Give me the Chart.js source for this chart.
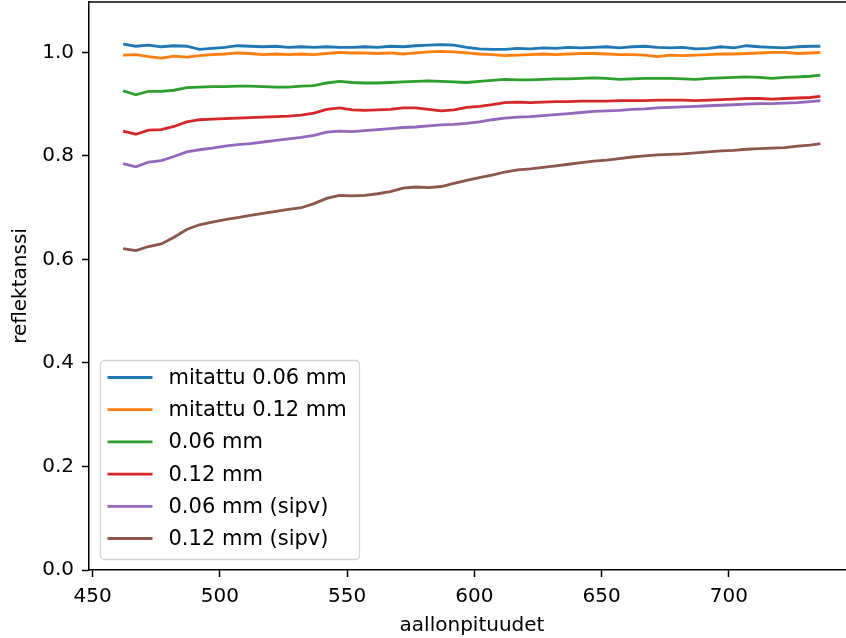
<!DOCTYPE html>
<html>
<head>
<meta charset="utf-8">
<script src="https://cdn.jsdelivr.net/npm/chart.js@4.4.1/dist/chart.umd.min.js"></script>
<style>
  html, body { margin: 0; padding: 0; background: #fff; }
  #wrap { width: 846px; height: 638px; overflow: hidden; position: relative; }
  #spectra { position: absolute; left: 0; top: 0; }
</style>
</head>
<body>
<div id="wrap"><canvas id="spectra" width="860" height="638"></canvas></div>
<script>
// wavelengths (nm)
const wavelengths = [462, 467, 472, 477, 482, 487, 492, 497, 502, 507, 512, 517, 522, 527, 532, 537, 542, 547, 552, 557,
  562, 567, 572, 577, 582, 587, 592, 597, 602, 607, 612, 617, 622, 627, 632, 637, 642, 647, 652, 657,
  662, 667, 672, 677, 682, 687, 692, 697, 702, 707, 712, 717, 722, 727, 732, 736];

const measured006 = [1.016, 1.012, 1.014, 1.011, 1.013, 1.012, 1.006, 1.008, 1.010, 1.013, 1.012, 1.011, 1.012, 1.010, 1.011, 1.010, 1.011, 1.010, 1.010, 1.011,
  1.010, 1.012, 1.011, 1.013, 1.014, 1.015, 1.014, 1.010, 1.007, 1.006, 1.006, 1.008, 1.007, 1.009, 1.008, 1.010, 1.009, 1.010, 1.011, 1.009,
  1.011, 1.012, 1.010, 1.009, 1.010, 1.007, 1.008, 1.011, 1.009, 1.013, 1.011, 1.010, 1.009, 1.011, 1.012, 1.012];

const measured012 = [0.995, 0.996, 0.992, 0.989, 0.993, 0.991, 0.994, 0.996, 0.997, 0.999, 0.998, 0.996, 0.997, 0.996, 0.997, 0.996, 0.998, 1.000, 0.999, 0.999,
  0.998, 0.999, 0.997, 0.999, 1.001, 1.002, 1.001, 0.999, 0.997, 0.996, 0.994, 0.995, 0.996, 0.997, 0.996, 0.997, 0.998, 0.998, 0.997, 0.996,
  0.996, 0.995, 0.992, 0.995, 0.994, 0.995, 0.996, 0.997, 0.997, 0.998, 0.999, 1.000, 1.000, 0.998, 0.999, 1.000];

const model006 = [0.926, 0.918, 0.925, 0.925, 0.927, 0.932, 0.933, 0.934, 0.934, 0.935, 0.935, 0.934, 0.933, 0.933, 0.935, 0.936, 0.941, 0.944, 0.942, 0.941,
  0.941, 0.942, 0.943, 0.944, 0.945, 0.944, 0.943, 0.942, 0.944, 0.946, 0.948, 0.947, 0.947, 0.948, 0.949, 0.949, 0.950, 0.951, 0.950, 0.948,
  0.949, 0.950, 0.950, 0.950, 0.949, 0.948, 0.950, 0.951, 0.952, 0.953, 0.952, 0.950, 0.952, 0.953, 0.954, 0.956];

const model012 = [0.848, 0.842, 0.850, 0.851, 0.857, 0.866, 0.870, 0.871, 0.872, 0.873, 0.874, 0.875, 0.876, 0.877, 0.879, 0.883, 0.890, 0.893, 0.889, 0.888,
  0.889, 0.890, 0.893, 0.893, 0.890, 0.887, 0.889, 0.894, 0.896, 0.899, 0.903, 0.904, 0.903, 0.904, 0.905, 0.905, 0.906, 0.906, 0.906, 0.907,
  0.907, 0.907, 0.908, 0.908, 0.908, 0.907, 0.908, 0.909, 0.910, 0.911, 0.911, 0.910, 0.911, 0.912, 0.913, 0.915];

const sipv006 = [0.785, 0.779, 0.788, 0.791, 0.799, 0.808, 0.812, 0.815, 0.819, 0.822, 0.824, 0.827, 0.830, 0.833, 0.836, 0.840, 0.846, 0.848, 0.847, 0.849,
  0.851, 0.853, 0.855, 0.856, 0.858, 0.860, 0.861, 0.863, 0.866, 0.870, 0.873, 0.875, 0.876, 0.878, 0.880, 0.882, 0.884, 0.886, 0.887, 0.888,
  0.890, 0.891, 0.893, 0.894, 0.895, 0.896, 0.897, 0.898, 0.899, 0.900, 0.901, 0.901, 0.902, 0.903, 0.905, 0.907];

const sipv012 = [0.621, 0.617, 0.625, 0.630, 0.643, 0.658, 0.667, 0.672, 0.677, 0.681, 0.685, 0.689, 0.693, 0.697, 0.700, 0.708, 0.718, 0.724, 0.723, 0.724,
  0.727, 0.731, 0.738, 0.740, 0.739, 0.741, 0.747, 0.753, 0.758, 0.763, 0.769, 0.773, 0.775, 0.778, 0.781, 0.784, 0.787, 0.790, 0.792, 0.795,
  0.798, 0.800, 0.802, 0.803, 0.804, 0.806, 0.808, 0.810, 0.811, 0.813, 0.814, 0.815, 0.816, 0.819, 0.821, 0.824];

const seriesLabels = ['mitattu 0.06 mm', 'mitattu 0.12 mm', '0.06 mm', '0.12 mm', '0.06 mm (sipv)', '0.12 mm (sipv)'];
const seriesValues = [measured006, measured012, model006, model012, sipv006, sipv012];
const seriesColors = ['#1f77b4', '#ff7f0e', '#2ca02c', '#d62728', '#9467bd', '#8c564b'];

const xTicks = [450, 500, 550, 600, 650, 700];
const yTicks = [0.0, 0.2, 0.4, 0.6, 0.8, 1.0];

const FONT = 'DejaVu Sans';

// matplotlib-like legend box in the lower left corner of the axes
const legendBox = {
  id: 'legendBox',
  afterDatasetsDraw(chart) {
    const { ctx, chartArea } = chart;
    const x = chartArea.left + 11.5;
    const w = 259;
    const h = 199;
    const y = chartArea.bottom - 10.5 - h;
    ctx.save();
    ctx.beginPath();
    ctx.roundRect(x, y, w, h, 4);
    ctx.fillStyle = 'rgba(255,255,255,0.8)';
    ctx.fill();
    ctx.strokeStyle = '#d5d5d5';
    ctx.lineWidth = 1.3;
    ctx.stroke();
    ctx.font = `21px "${FONT}"`;
    ctx.textBaseline = 'middle';
    chart.data.datasets.forEach((ds, i) => {
      const cy = y + 17 + i * 32.2;
      ctx.beginPath();
      ctx.moveTo(x + 7, cy);
      ctx.lineTo(x + 52, cy);
      ctx.strokeStyle = ds.borderColor;
      ctx.lineWidth = ds.borderWidth;
      ctx.stroke();
      ctx.fillStyle = '#000';
      ctx.fillText(ds.label, x + 68, cy + 1);
    });
    ctx.restore();
  },
  afterDraw(chart) {
    // top spine
    const { ctx, chartArea } = chart;
    ctx.save();
    ctx.strokeStyle = '#000';
    ctx.lineWidth = 1.5;
    ctx.beginPath();
    ctx.moveTo(chartArea.left, chartArea.top);
    ctx.lineTo(chartArea.right, chartArea.top);
    ctx.stroke();
    ctx.restore();
  }
};

const datasets = seriesLabels.map((label, i) => ({
  label,
  data: wavelengths.map((w, j) => ({ x: w, y: seriesValues[i][j] })),
  borderColor: seriesColors[i],
  backgroundColor: seriesColors[i],
  borderWidth: 2.8,
  pointRadius: 0,
  tension: 0,
  fill: false,
}));

new Chart(document.getElementById('spectra'), {
  type: 'line',
  data: { datasets },
  options: {
    responsive: false,
    animation: false,
    devicePixelRatio: 1,
    layout: { padding: { top: 2, right: 5, left: 0, bottom: 0 } },
    plugins: { legend: { display: false }, tooltip: { enabled: false } },
    scales: {
      x: {
        type: 'linear',
        min: 448.6,
        max: 749.6,
        afterBuildTicks: (scale) => { scale.ticks = xTicks.map((v) => ({ value: v })); },
        afterFit: (scale) => { scale.height = 68; scale.paddingLeft = 0; scale.paddingRight = 0; },
        grid: { drawOnChartArea: false, tickLength: 7, tickWidth: 1.5, color: '#000' },
        border: { display: true, color: '#000', width: 1.5 },
        ticks: { color: '#000', font: { family: FONT, size: 20 }, padding: 8, maxRotation: 0 },
        title: { display: true, text: 'aallonpituudet', color: '#000', font: { family: FONT, size: 20 }, padding: { top: 2, bottom: 0 } },
      },
      y: {
        type: 'linear',
        min: 0,
        max: 1.0975,
        afterBuildTicks: (scale) => { scale.ticks = yTicks.map((v) => ({ value: v })); },
        afterFit: (scale) => { scale.width = 89; scale.paddingTop = 0; scale.paddingBottom = 0; },
        grid: { drawOnChartArea: false, tickLength: 7, tickWidth: 1.5, color: '#000' },
        border: { display: true, color: '#000', width: 1.5 },
        ticks: { color: '#000', font: { family: FONT, size: 20 }, padding: 8, callback: (v) => v.toFixed(1) },
        title: { display: true, text: 'reflektanssi', color: '#000', font: { family: FONT, size: 20 }, padding: { top: 9, bottom: 0 } },
      },
    },
  },
  plugins: [legendBox],
});
</script>
</body>
</html>
